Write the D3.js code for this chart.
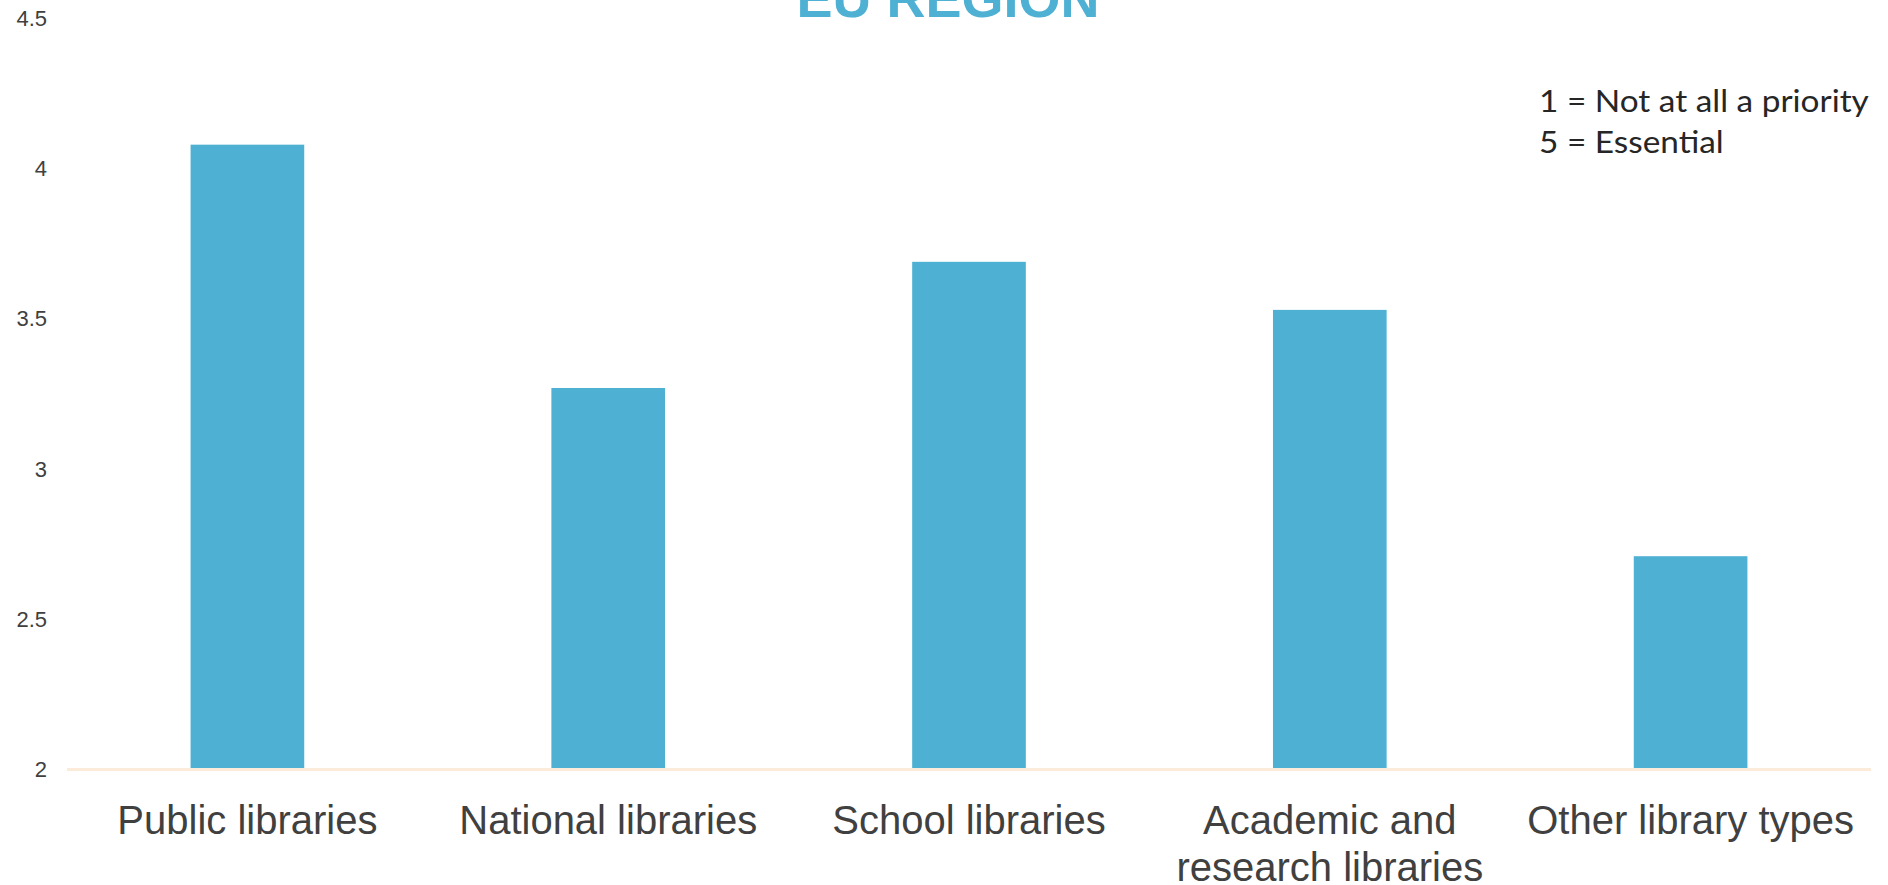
<!DOCTYPE html>
<html>
<head>
<meta charset="utf-8">
<script src="https://cdn.jsdelivr.net/npm/d3@7"></script>
<style>
  html, body { margin: 0; padding: 0; background: #ffffff; }
  svg { display: block; }
</style>
</head>
<body>
<svg id="chart" width="1888" height="885"></svg>
<script>
// Average priority score by library type (scale 1–5)
const categories = [
  "Public libraries",
  "National libraries",
  "School libraries",
  "Academic and research libraries",
  "Other library types"
];
const scores = [4.08, 3.27, 3.69, 3.53, 2.71];
const yTicks = [2, 2.5, 3, 3.5, 4, 4.5];
const titleText = "EU REGION";
const noteLines = ["1 = Not at all a priority", "5 = Essential"];

const barColor = "#4EB1D3";
const textColor = "#404040";

const svg = d3.select("#chart");

const x = d3.scaleBand()
  .domain(categories)
  .range([67, 1871])
  .paddingInner(0.685)
  .paddingOuter(0.3425);

const y = d3.scaleLinear()
  .domain([2, 4.5])
  .range([769.5, 18.5]);

// Bars
svg.append("g")
  .selectAll("rect")
  .data(categories.map((c, i) => ({ c, v: scores[i] })))
  .join("rect")
  .attr("x", d => x(d.c))
  .attr("y", d => y(d.v))
  .attr("width", x.bandwidth())
  .attr("height", d => y(2) - y(d.v))
  .attr("fill", barColor);

// Baseline
svg.append("line")
  .attr("x1", x.range()[0])
  .attr("x2", x.range()[1])
  .attr("y1", y(2))
  .attr("y2", y(2))
  .attr("stroke", "#FCEBD9")
  .attr("stroke-width", 3);

// Y axis (labels only)
const yAxis = svg.append("g")
  .attr("transform", "translate(47,0)")
  .call(d3.axisLeft(y).tickValues(yTicks).tickSize(0).tickPadding(0).tickFormat(d3.format("")));
yAxis.select(".domain").remove();
yAxis.selectAll("text")
  .attr("fill", textColor)
  .style("font-family", "'Liberation Sans', Arial, sans-serif")
  .style("font-size", "22px");

// X axis (category labels, wrapped to the band step)
const xAxis = svg.append("g")
  .attr("transform", `translate(0,${y(2)})`)
  .call(d3.axisBottom(x).tickSize(0).tickPadding(0));
xAxis.select(".domain").remove();
xAxis.selectAll("text")
  .attr("fill", textColor)
  .style("font-family", "'Liberation Sans', Arial, sans-serif")
  .style("font-size", "40px")
  .attr("y", 64.5)
  .attr("dy", 0)
  .each(function () { wrap(d3.select(this), x.step()); });

function wrap(text, width) {
  const words = text.text().split(/\s+/);
  const yPos = text.attr("y");
  text.text(null);
  let line = [];
  let lineNo = 0;
  let tspan = text.append("tspan").attr("x", 0).attr("y", yPos).attr("dy", 0);
  words.forEach(w => {
    line.push(w);
    tspan.text(line.join(" "));
    if (tspan.node().getComputedTextLength() > width && line.length > 1) {
      line.pop();
      tspan.text(line.join(" "));
      line = [w];
      lineNo += 1;
      tspan = text.append("tspan").attr("x", 0).attr("y", yPos)
        .attr("dy", (lineNo * 47) + "px").text(w);
    }
  });
}

// Title
svg.append("text")
  .attr("x", 948)
  .attr("y", 17)
  .attr("text-anchor", "middle")
  .attr("fill", barColor)
  .style("font-family", "'Liberation Sans', Arial, sans-serif")
  .style("font-weight", "bold")
  .style("font-size", "54px")
  .text(titleText);

// Scale note: narrow humanist look, longest line spans 330px
const note = svg.append("g");
const noteTexts = note.selectAll("text")
  .data(noteLines)
  .join("text")
  .attr("x", 0)
  .attr("y", (d, i) => i * 41.5)
  .attr("fill", "#262626")
  .style("font-family", "Lato, 'Open Sans', sans-serif")
  .style("font-size", "30px")
  .text(d => d);
const longest = d3.max(noteTexts.nodes(), n => n.getComputedTextLength());
note.attr("transform", `translate(1539,111.5) scale(${330 / longest},1)`);
</script>
</body>
</html>
